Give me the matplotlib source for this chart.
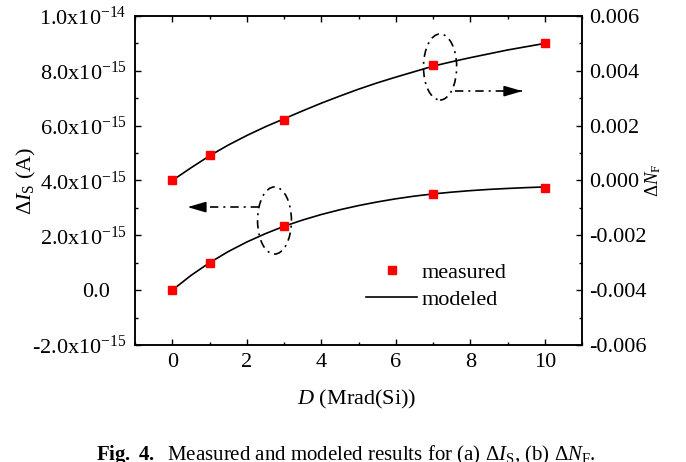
import matplotlib
matplotlib.use("Agg")
import matplotlib.pyplot as plt
from matplotlib.patches import Ellipse
from matplotlib.lines import Line2D
from matplotlib.ticker import FixedLocator, FixedFormatter, MultipleLocator

# ---- data ----
dose = [0, 1, 3, 7, 10]                                        # D, Mrad(Si)
dIs_measured = [0.0, 1.0e-15, 2.35e-15, 3.51e-15, 3.74e-15]    # A
dNF_measured = [0.0, 0.00092, 0.0022, 0.0042, 0.0050]

dose_model = [0, 0.5, 1, 1.5, 2, 2.5, 3, 3.5, 4, 4.5, 5,
              5.5, 6, 6.5, 7, 7.5, 8, 8.5, 9, 9.5, 10]
dIs_model = [0.0, 0.535e-15, 1.00e-15, 1.405e-15, 1.756e-15, 2.061e-15,
             2.33e-15, 2.558e-15, 2.759e-15, 2.933e-15, 3.085e-15,
             3.217e-15, 3.332e-15, 3.43e-15, 3.51e-15, 3.575e-15,
             3.63e-15, 3.675e-15, 3.71e-15, 3.74e-15, 3.765e-15]
dNF_model = [0.0, 0.00046, 0.00090, 0.00129, 0.00164, 0.00196,
             0.00225, 0.00254, 0.00282, 0.00308, 0.00333,
             0.00356, 0.00377, 0.00397, 0.00417, 0.00433,
             0.00448, 0.00462, 0.00476, 0.00488, 0.00500]

x_ticks = [0, 2, 4, 6, 8, 10]
left_ticks = [-2e-15, 0.0, 2e-15, 4e-15, 6e-15, 8e-15, 1e-14]
left_labels = ["-2.0x10$^{-15}$", "0.0", "2.0x10$^{-15}$",
               "4.0x10$^{-15}$", "6.0x10$^{-15}$", "8.0x10$^{-15}$",
               "1.0x10$^{-14}$"]
right_ticks = [-0.006, -0.004, -0.002, 0.0, 0.002, 0.004, 0.006]
right_labels = ["-0.006", "-0.004", "-0.002", "0.000", "0.002", "0.004", "0.006"]

# ---- style ----
plt.rcParams["font.family"] = ["Liberation Serif", "DejaVu Serif"]
plt.rcParams["mathtext.fontset"] = "custom"
plt.rcParams["mathtext.rm"] = "Liberation Serif"
plt.rcParams["mathtext.it"] = "Liberation Serif:italic"
plt.rcParams["mathtext.bf"] = "Liberation Serif:bold"
plt.rcParams["font.size"] = 16

fig = plt.figure(figsize=(6.86, 4.62), dpi=100)
L, R, T, B = 135 / 686, 582 / 686, 1 - 16 / 462, 1 - 345 / 462
ax1 = fig.add_axes([L, B, R - L, T - B])
ax2 = ax1.twinx()

for ax in (ax1, ax2):
    for s in ax.spines.values():
        s.set_linewidth(1.1)

ax1.set_xlim(-1, 11)
ax1.set_ylim(-2e-15, 1e-14)
ax2.set_ylim(-0.006, 0.006)

# x axis ticks (bottom and top, pointing in)
ax1.xaxis.set_major_locator(FixedLocator(x_ticks))
ax1.xaxis.set_minor_locator(MultipleLocator(1))
ax1.tick_params(axis="x", which="both", direction="in", top=True, bottom=True,
                labelsize=16, pad=6)
ax1.tick_params(axis="both", which="major", length=4.5, width=1.0)
ax1.tick_params(axis="both", which="minor", length=2.5, width=1.0)

# left axis: labels with an exponent are right-aligned on the mantissa,
# so the plain "0.0" label is placed by hand a little further left
plain = [lab if "$" in lab else "" for lab in left_labels]
ax1.yaxis.set_major_locator(FixedLocator(left_ticks))
ax1.yaxis.set_major_formatter(FixedFormatter(plain))
ax1.yaxis.set_minor_locator(MultipleLocator(1e-15))
ax1.tick_params(axis="y", which="both", direction="in", left=True, right=False,
                labelsize=16, pad=6)
for val, lab in zip(left_ticks, left_labels):
    if "$" not in lab:
        ax1.text((110 - 135) / 447, val, lab, transform=ax1.get_yaxis_transform(),
                 ha="right", va="center_baseline", fontsize=16)

ax2.yaxis.set_major_locator(FixedLocator(right_ticks))
ax2.yaxis.set_major_formatter(FixedFormatter(right_labels))
ax2.yaxis.set_minor_locator(MultipleLocator(0.001))
ax2.tick_params(axis="y", which="both", direction="in", labelsize=16, pad=5)
ax2.tick_params(axis="y", which="major", length=4.5, width=1.0)
ax2.tick_params(axis="y", which="minor", length=2.5, width=1.0)

# ---- curves ----
ax1.plot(dose_model, dIs_model, color="black", lw=1.2, zorder=2)
ax1.plot(dose, dIs_measured, ls="none", marker="s", ms=6, color="#ff0000",
         mec="#ff0000", zorder=3)
ax2.plot(dose_model, dNF_model, color="black", lw=1.2, zorder=2)
ax2.plot(dose, dNF_measured, ls="none", marker="s", ms=6, color="#ff0000",
         mec="#ff0000", zorder=3)

# ---- labels ----
ax1.set_xlabel("$D$ (Mrad(Si))", fontsize=16)
ax1.xaxis.set_label_coords((357 - 135) / 447, (345 - 399) / 329)
ax1.xaxis.label.set_va("center")

ax1.set_ylabel(r"Δ$I_{\mathrm{S}}$ (A)", fontsize=16)
ax1.yaxis.set_label_coords((26 - 135) / 447, 0.5)
ax1.yaxis.label.set_va("center")

ax2.set_ylabel(r"Δ$N_{\mathrm{F}}$", fontsize=13.5, rotation=90)
ax2.yaxis.set_label_coords((653 - 135) / 447, 0.5)
ax2.yaxis.label.set_va("center")

# ---- ellipses and arrows pointing to each axis ----
dash = (0, (5, 3, 1.2, 3))
for cx, cy, w, h in [(7.19, 8.14e-15, 0.89, 2.41e-15),
                     (2.745, 2.54e-15, 0.91, 2.45e-15)]:
    ax1.add_patch(Ellipse((cx, cy), w, h, fill=False, ec="black", lw=1.2,
                          ls=dash, zorder=4))

for x0, x1, y in [(7.60, 9.40, 7.26e-15), (2.32, 0.41, 3.03e-15)]:
    ax1.plot([x0, x1], [y, y], color="black", lw=1.2, ls=dash, zorder=4)
    sgn = 1 if x1 > x0 else -1
    ax1.annotate("", xy=(x1, y), xytext=(x1 - sgn * 0.45, y),
                 arrowprops=dict(arrowstyle="-|>,head_length=1.1,head_width=0.32",
                                 mutation_scale=10, color="black", lw=1.2,
                                 shrinkA=0, shrinkB=0), zorder=5)

# ---- legend ----
h_meas = Line2D([], [], ls="none", marker="s", ms=6, color="#ff0000")
h_mod = Line2D([], [], color="black", lw=1.2)
leg = ax2.legend([h_meas, h_mod], ["measured", "modeled"], frameon=False,
                 loc="upper left",
                 bbox_to_anchor=((366 - 135) / 447, (345 - 262) / 329),
                 borderpad=0, borderaxespad=0, handlelength=2.3,
                 handletextpad=0.2, labelspacing=0.3, fontsize=16)

# ---- caption ----
fig.text(345.5 / 686, 1 - 460 / 462,
         r"$\mathbf{Fig.\ 4.}$  Measured and modeled results for (a) Δ$I_{\mathrm{S}}$, (b) Δ$N_{\mathrm{F}}$.",
         ha="center", va="baseline", fontsize=15)

fig.savefig("out.png", dpi=100)
